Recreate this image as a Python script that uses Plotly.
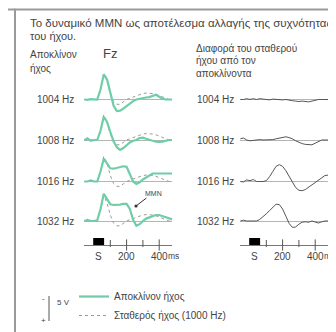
import plotly.graph_objects as go

W, H = 336, 332

# ---------------- data ----------------
t_ms = [-60, -40, -20, 0, 20, 40, 60, 80, 100, 120, 140, 160, 180, 200, 220,
        240, 260, 280, 300, 320, 340, 360, 380, 400, 420, 440, 460, 480]

row_labels = ["1004 Hz", "1008 Hz", "1016 Hz", "1032 Hz"]

# standard tone response (1000 Hz), µV (negative = up)
standard_uv = [0, 0, 0, 0, 0, -2.5, -6.3, -4.5, -1.5, 0.5, 1.2, 1.2, 0.6, 0,
               -0.3, -0.6, -1.0, -1.3, -1.5, -1.6, -1.6, -1.5, -1.3, -1.0, -0.6, -0.3, 0, 0]

deviant_1004 = [0, 0.1, -0.1, 0, 0, -2.5, -6.3, -5.0, -1.5, 1.5, 2.9, 2.8, 2.3, 1.6,
                1.0, 0.4, 0, -0.2, -0.4, -0.5, -0.6, -0.9, -1.2, -0.7, -0.2, 0, 0, 0]
deviant_1008 = [0, -0.4, 0.2, 0, 0, -2.3, -5.8, -4.5, -2.0, 0.3, 1.8, 2.5, 2.0, 1.2,
                0.6, 0.2, 0, -0.5, -0.6, -0.3, 0, 0.2, 0.4, 0.5, 0.4, 0.2, 0, 0]
deviant_1016 = [0, 0, -0.3, 0, 0, -2.5, -5.7, -4.5, -3.3, -3.2, -3.4, -3.6, -3.8, -3.7,
                -2.0, 0, 0.6, 0.2, -0.5, -1.0, -1.5, -2.0, -2.0, -2.0, -2.1, -2.0, -2.0, -2.0]
deviant_1032 = [0, -0.3, 0, 0, -0.2, -3.0, -6.8, -5.5, -4.2, -4.0, -4.0, -4.1, -4.3, -4.3,
                -3.0, -0.3, 1.2, 0.8, 0, -0.6, -0.9, -1.2, -1.5, -1.5, -1.2, -0.9, -0.6, -0.4]

diff_1004 = [0, 0, -0.2, 0, -0.2, 0, -0.2, -0.1, 0, 0.1, -0.1, 0, 0, 0.1,
             0, 0.2, 0.3, 0.4, 0.5, 0.4, 0.5, 0.6, 0.4, 0.2, 0, 0, 0, 0]
diff_1008 = [-0.3, -0.5, 0, 0.2, 0.1, 0, -0.1, 0, 0, 0, -0.1, -0.3, -0.5, -0.7,
             -0.8, -0.6, -0.3, 0.2, 0.6, 0.9, 1.1, 1.2, 1.2, 0.8, 0.3, 0, 0, 0]
diff_1016 = [0, 0.1, -0.4, -0.2, -0.5, 0, 0, 0, -0.2, -1.2, -2.5, -3.8, -4.2, -3.8,
             -2.7, -1.2, 0.2, 1.5, 2.2, 2.3, 2.0, 1.4, 0.8, 0.2, -0.4, -1.0, -1.5, -1.6]
diff_1032 = [0, -0.2, 0, 0, 0, 0, -0.4, -1.0, -1.8, -2.6, -3.5, -4.2, -4.1, -3.0,
             -1.2, 0.6, 1.6, 1.5, 0.8, 0.3, 0.2, 0.3, 0, 0.3, 0.5, 0.2, 0, 0]

deviants = [deviant_1004, deviant_1008, deviant_1016, deviant_1032]
diffs = [diff_1004, diff_1008, diff_1016, diff_1032]

major_ticks = [200, 400]
minor_ticks = [100, 300]
stimulus_ms = [-5, 62]
time_labels = ["S", "200", "400"]
time_label_pos = [25, 200, 400]

# ---------------- styling / layout ----------------
GREEN = "#6fcea8"
TXT = "#444444"
FONT = "Liberation Sans, Arial, sans-serif"

def px(x):
    return x / W

def py(y):
    return 1 - y / H

fig = go.Figure()
layout = dict(width=W, height=H, margin=dict(l=0, r=0, t=0, b=0),
              paper_bgcolor="white", plot_bgcolor="rgba(0,0,0,0)",
              font=dict(family=FONT, color=TXT, size=10))

zero_left, zero_right = 86, 242      # pixel of t=0 in each panel
pxms = 0.163                          # pixels per ms
baselines = [91.5, 132, 173.5, 213]
UVPX = 4.0
yr = [5, -9]

def xdomain(z):
    return [px(z + t_ms[0] * pxms), px(z + t_ms[-1] * pxms)]

n = 0
for r in range(4):
    b = baselines[r]
    ydom = [py(b + yr[0] * UVPX), py(b + yr[1] * UVPX)]
    for p, z in enumerate([zero_left, zero_right]):
        n += 1
        xa = "xaxis" if n == 1 else f"xaxis{n}"
        ya = "yaxis" if n == 1 else f"yaxis{n}"
        xs = "x" if n == 1 else f"x{n}"
        ys = "y" if n == 1 else f"y{n}"
        layout[xa] = dict(domain=xdomain(z), range=[t_ms[0], t_ms[-1]], visible=False,
                          anchor=ys, fixedrange=True)
        layout[ya] = dict(domain=ydom, range=yr, anchor=xs, showgrid=False,
                          showticklabels=False, ticks="", showline=False,
                          zeroline=True, zerolinecolor="#b5b5b5", zerolinewidth=1)
        if p == 0:
            fig.add_trace(go.Scatter(x=t_ms, y=standard_uv, xaxis=xs, yaxis=ys,
                                     mode="lines", line=dict(color="#9a9a9a", width=1, dash="dot"),
                                     name="Σταθερός ήχος (1000 Hz)", showlegend=(r == 0),
                                     legendrank=2))
            fig.add_trace(go.Scatter(x=t_ms, y=deviants[r], xaxis=xs, yaxis=ys,
                                     mode="lines", line=dict(color=GREEN, width=2.2),
                                     name="Αποκλίνον ήχος", showlegend=(r == 0),
                                     legendrank=1))
        else:
            fig.add_trace(go.Scatter(x=t_ms, y=diffs[r], xaxis=xs, yaxis=ys,
                                     mode="lines", line=dict(color="#555555", width=1),
                                     showlegend=False))

annotations = []
shapes = []

# row labels
for r in range(4):
    for xr in (68, 228):
        annotations.append(dict(x=px(xr), y=py(baselines[r]), xref="paper", yref="paper",
                                text=row_labels[r], showarrow=False, xanchor="right",
                                yanchor="middle", font=dict(size=10, color=TXT)))

# time axes
AXY = 237
for z in (zero_left, zero_right):
    n += 1
    xs, ys = f"x{n}", f"y{n}"
    layout[f"xaxis{n}"] = dict(domain=xdomain(z), range=[t_ms[0], t_ms[-1]], visible=False,
                               anchor=ys)
    layout[f"yaxis{n}"] = dict(domain=[py(AXY + 10), py(AXY - 10)], range=[-1, 1], anchor=xs,
                               showgrid=False, showticklabels=False, ticks="", showline=False,
                               zeroline=True, zerolinecolor="#777777", zerolinewidth=1)
    fig.add_trace(go.Scatter(x=major_ticks, y=[0] * len(major_ticks), xaxis=xs, yaxis=ys,
                             mode="markers", showlegend=False,
                             marker=dict(symbol="line-ns-open", size=8, color="#555555",
                                         line=dict(color="#555555", width=1))))
    fig.add_trace(go.Scatter(x=minor_ticks, y=[0.15] * len(minor_ticks), xaxis=xs, yaxis=ys,
                             mode="markers", showlegend=False,
                             marker=dict(symbol="line-ns-open", size=5, color="#555555",
                                         line=dict(color="#555555", width=1))))
    shapes.append(dict(type="rect", xref=xs, yref=ys, x0=stimulus_ms[0], x1=stimulus_ms[1],
                       y0=0, y1=0.7, fillcolor="black", line=dict(width=0)))
    for lab, pos in zip(time_labels, time_label_pos):
        annotations.append(dict(x=pos, y=py(AXY + 11), xref=xs, yref="paper", text=lab,
                                showarrow=False, xanchor="center", yanchor="middle",
                                font=dict(size=10, color=TXT)))
    annotations.append(dict(x=400, y=py(AXY + 11), xref=xs, yref="paper", text="ms",
                            showarrow=False, xanchor="left", xshift=8, yanchor="middle",
                            borderpad=0, font=dict(size=8.5, color=TXT)))

# texts
def txt(x, y, s, size=10, anchor="left"):
    annotations.append(dict(x=px(x), y=py(y), xref="paper", yref="paper", text=s,
                            showarrow=False, xanchor=anchor, yanchor="middle",
                            font=dict(size=size, color=TXT)))

txt(20, 15, "Το δυναμικό MMN ως αποτέλεσμα αλλαγής της συχνότητας", 11.5)
txt(20, 28, "του ήχου.", 11)
txt(20, 47, "Αποκλίνον", 10)
txt(20, 60, "ήχος", 10)
txt(93, 46, "Fz", 13)
txt(186, 41, "Διαφορά του σταθερού", 10)
txt(186, 53, "ήχου από τον", 10)
txt(186, 65, "αποκλίνοντα", 10)
txt(47, 294, "5 V", 8)
txt(32, 290, "-", 8)
txt(31, 312, "+", 8)

# MMN marker
annotations.append(dict(x=px(128), y=py(198), xref="paper", yref="paper", text="MMN",
                        showarrow=True, arrowhead=6, arrowsize=0.8, arrowwidth=1,
                        arrowcolor="#333333", ax=17, ay=-13, font=dict(size=7, color=TXT)))

# scale bar and frame
shapes.append(dict(type="line", xref="paper", yref="paper", x0=px(41), x1=px(41),
                   y0=py(288), y1=py(313), line=dict(color="#555555", width=1)))
shapes.append(dict(type="rect", xref="paper", yref="paper", x0=px(7), x1=px(345),
                   y0=py(330), y1=py(1.5), line=dict(color="#9a9a9a", width=2)))
shapes.append(dict(type="line", xref="paper", yref="paper", x0=0, x1=px(7),
                   y0=py(1.5), y1=py(1.5), line=dict(color="#9a9a9a", width=2)))

layout["annotations"] = annotations
layout["shapes"] = shapes
layout["legend"] = dict(x=px(66), y=py(274), xanchor="left", yanchor="top",
                        bgcolor="rgba(0,0,0,0)", font=dict(size=10, color=TXT),
                        tracegroupgap=0, itemwidth=30)
fig.update_layout(**layout)
fig.write_html("out.html")
